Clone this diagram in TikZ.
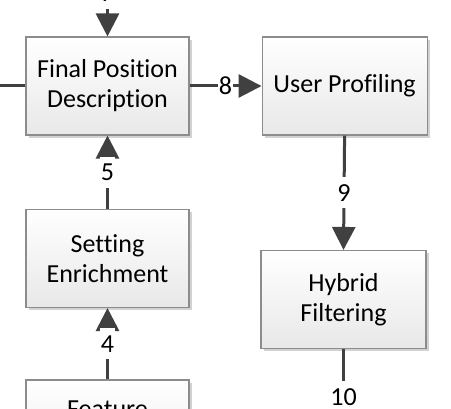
\documentclass[tikz,border=0pt]{standalone}
\usepackage{fontspec}
\setmainfont{Carlito}[Ligatures={NoCommon}]
\usetikzlibrary{arrows.meta}
\usetikzlibrary{shadows}
\usetikzlibrary{positioning}

\begin{document}
\begin{tikzpicture}[x=1pt,y=-1pt,
  block/.style={draw=black!45,line width=1.1pt,top color=white,bottom color=black!9,
    drop shadow={shadow xshift=3pt,shadow yshift=-3pt,fill=black!22,opacity=0.8},
    minimum width=163pt,minimum height=98pt,align=center,
    font=\fontsize{26}{30}\selectfont},
  flow/.style={line width=3pt,draw=black!75,-{Triangle[length=23pt,width=23pt]}},
  plainflow/.style={line width=3pt,draw=black!75},
  num/.style={fill=white,inner xsep=1pt,inner ysep=7pt,font=\fontsize{26}{30}\selectfont}]

\clip (0,0) rectangle (451,409);

\def\colgap{72}

% blocks
\node[block] (fpd) at (107.5,86) {Final Position\\Description};
\node[block,minimum width=165pt,right=\colgap pt of fpd] (up) {User Profiling};
\node[block] (se) at (107.5,258.5) {Setting\\Enrichment};
\node[block,minimum width=165pt] (hf) at (343.5,299.5) {Hybrid\\Filtering};
\node[block] (feat) at (107.5,429) {Feature\\\strut};

% free ends
\coordinate (in7) at (107.5,-50);
\coordinate (inleft) at (-20,86);
\coordinate (out10) at (343.5,445);

% connectors
\draw[flow] (in7) -- node[num]{7} (fpd.north);
\draw[plainflow] (inleft) -- (fpd.west);
\draw[flow] (fpd.east) -- node[num]{8} (up.west);
\draw[flow] (se.north) -- node[num]{5} (fpd.south);
\draw[flow] (up.south) -- node[num]{9} (hf.north);
\draw[flow] (feat.north) -- node[num]{4} (se.south);
\draw[plainflow] (hf.south) -- node[num]{10} (out10);

\end{tikzpicture}
\end{document}
